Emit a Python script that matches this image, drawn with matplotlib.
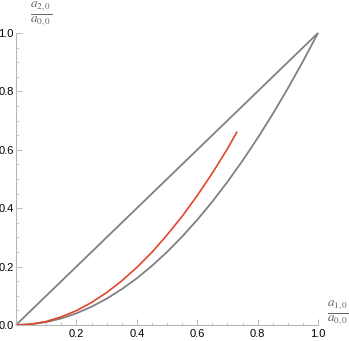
import numpy as np
import matplotlib.pyplot as plt

plt.rcParams['font.family'] = ['Liberation Sans', 'DejaVu Sans']
plt.rcParams['mathtext.fontset'] = 'stix'

# diagonal (upper bound)
diag_x = [0.0, 1.0]
diag_y = [0.0, 1.0]

# lower bound curve
low_x = [0.0, 0.05, 0.1, 0.15, 0.2, 0.25, 0.3, 0.35, 0.4, 0.45, 0.5,
         0.55, 0.6, 0.65, 0.7, 0.75, 0.8, 0.85, 0.9, 0.95, 1.0]
low_y = [0.0, 0.0025, 0.01, 0.0225, 0.04, 0.0625, 0.09, 0.1225, 0.16, 0.2025, 0.25,
         0.3025, 0.36, 0.4225, 0.49, 0.5625, 0.64, 0.7225, 0.81, 0.9025, 1.0]

# red curve
red_x = [0.0, 0.05, 0.1, 0.15, 0.2, 0.25, 0.3, 0.35, 0.4, 0.45, 0.5,
         0.55, 0.6, 0.65, 0.7, 0.732]
red_y = [0.0, 0.003, 0.012, 0.028, 0.049, 0.077, 0.111, 0.151, 0.197, 0.249, 0.308,
         0.372, 0.443, 0.52, 0.603, 0.662]

xticks = [0.2, 0.4, 0.6, 0.8, 1.0]
yticks = [0.0, 0.2, 0.4, 0.6, 0.8, 1.0]

gray = '#808080'
red = '#e3452c'
axcol = '#b8b8b8'

fig = plt.figure(figsize=(3.49, 3.41), dpi=100)
ax = fig.add_axes([16/349, 16/341, 302/349, 292/341])

ax.plot(diag_x, diag_y, c=gray, lw=1.3, clip_on=False, solid_capstyle='butt')
ax.plot(low_x, low_y, c=gray, lw=1.3, clip_on=False, solid_capstyle='butt')
ax.plot(red_x, red_y, c=red, lw=1.2, clip_on=False, solid_capstyle='butt')

ax.set_xlim(0, 1.0)
ax.set_ylim(0, 1.0)

for s in ['top', 'right']:
    ax.spines[s].set_visible(False)
for s in ['left', 'bottom']:
    ax.spines[s].set_color(axcol)
    ax.spines[s].set_linewidth(0.8)

ax.set_xticks(xticks)
ax.set_xticklabels(['%.1f' % v for v in xticks])
ax.set_yticks(yticks)
ax.set_yticklabels(['%.1f' % v for v in yticks])
ax.set_xticks(np.arange(0.05, 1.0, 0.05), minor=True)
ax.set_yticks(np.arange(0.05, 1.0, 0.05), minor=True)
ax.tick_params(which='both', direction='in', color=axcol, labelsize=8)
ax.tick_params(axis='y', pad=1.5)
ax.tick_params(axis='x', pad=3)
ax.tick_params(which='major', length=4, width=0.7)
ax.tick_params(which='minor', length=2, width=0.5)

# axis labels as fractions
fig.text(41/349, 1 - 14/341, r'$\frac{a_{2,0}}{a_{0,0}}$', ha='center', va='center',
         fontsize=13.5, color='#666666')
fig.text(338/349, 1 - 313/341, r'$\frac{a_{1,0}}{a_{0,0}}$', ha='center', va='center',
         fontsize=13.5, color='#666666')

fig.savefig('out.png', dpi=100)
